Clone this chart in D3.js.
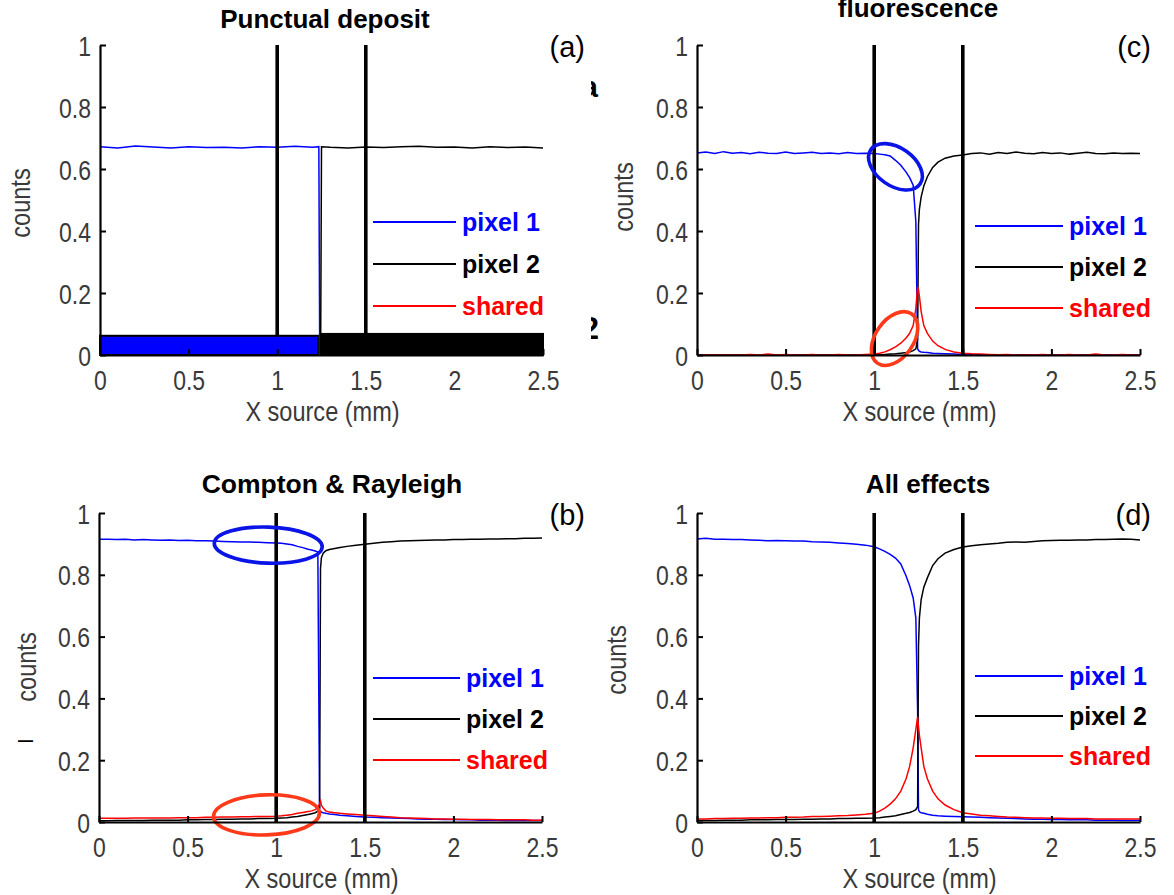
<!DOCTYPE html>
<html>
<head>
<meta charset="utf-8">
<script src="https://cdn.jsdelivr.net/npm/d3@7"></script>
<style>
  body { margin: 0; background: #fff; }
  svg { display: block; }
  .tick text, .axis-label { font-family: "Liberation Sans", Arial, sans-serif; fill: #3a3a3a; }
  .title, .legend-text { font-family: "Liberation Sans", Arial, sans-serif; font-weight: bold; }
  .tag { font-family: "Liberation Sans", Arial, sans-serif; }
</style>
</head>
<body>
<svg id="fig" width="1174" height="895"></svg>
<script>
// ---- shared axis content ----
const xTicks = [0, 0.5, 1, 1.5, 2, 2.5];
const xTickLabels = ["0", "0.5", "1", "1.5", "2", "2.5"];
const yTicks = [0, 0.2, 0.4, 0.6, 0.8, 1];
const yTickLabels = ["0", "0.2", "0.4", "0.6", "0.8", "1"];
const pixelEdges = [1, 1.5];                 // pixel boundaries (mm)
const seriesNames = ["pixel 1", "pixel 2", "shared"];

// ---- (a) punctual deposit ----
const xPunctual = [0, 0.1, 0.2, 0.3, 0.4, 0.5, 0.6, 0.7, 0.8, 0.9, 1.0, 1.1, 1.2, 1.235, 1.24, 1.245, 1.25, 1.3, 1.4, 1.5, 1.6, 1.7, 1.8, 1.9, 2.0, 2.1, 2.2, 2.3, 2.4, 2.5];
const punctualPixel1 = [0.672, 0.668, 0.674, 0.671, 0.668, 0.672, 0.669, 0.670, 0.668, 0.672, 0.670, 0.673, 0.670, 0.672, 0, 0, 0, 0, 0, 0, 0, 0, 0, 0, 0, 0, 0, 0, 0, 0];
const punctualPixel2 = [0, 0, 0, 0, 0, 0, 0, 0, 0, 0, 0, 0, 0, 0, 0, 0, 0.672, 0.670, 0.668, 0.671, 0.669, 0.672, 0.673, 0.670, 0.671, 0.668, 0.672, 0.669, 0.671, 0.668];
const punctualShared = [0, 0, 0, 0, 0, 0, 0, 0, 0, 0, 0, 0, 0, 0, 0, 0, 0, 0, 0, 0, 0, 0, 0, 0, 0, 0, 0, 0, 0, 0];
// deposit footprint of each pixel: [start, end, height]
const footprintPixel1 = [0, 1.23, 0.062];
const footprintPixel2 = [1.25, 2.5, 0.068];

// ---- source positions for (b), (c), (d) ----
const xSrc = [0, 0.05, 0.1, 0.15, 0.2, 0.25, 0.3, 0.35, 0.4, 0.45, 0.5, 0.55, 0.6, 0.65, 0.7, 0.75, 0.8, 0.85, 0.9, 0.95,
  1.0, 1.03, 1.06, 1.09, 1.12, 1.15, 1.18, 1.2, 1.22, 1.235, 1.245, 1.25, 1.255, 1.265, 1.28, 1.3, 1.33, 1.36, 1.4, 1.45,
  1.5, 1.55, 1.6, 1.65, 1.7, 1.75, 1.8, 1.85, 1.9, 1.95, 2.0, 2.05, 2.1, 2.15, 2.2, 2.25, 2.3, 2.35, 2.4, 2.45, 2.5];

// ---- (b) Compton & Rayleigh ----
const comptonPixel1 = [0.915, 0.915, 0.914, 0.915, 0.913, 0.914, 0.913, 0.912, 0.913, 0.911, 0.912, 0.910, 0.910, 0.909, 0.908, 0.907, 0.906, 0.906, 0.905, 0.904,
  0.903, 0.902, 0.900, 0.897, 0.892, 0.888, 0.883, 0.880, 0.877, 0.874, 0.020, 0.035, 0.032, 0.030, 0.028, 0.026, 0.024, 0.022, 0.020, 0.018,
  0.016, 0.015, 0.014, 0.013, 0.012, 0.011, 0.010, 0.009, 0.009, 0.008, 0.008, 0.007, 0.007, 0.006, 0.006, 0.006, 0.005, 0.005, 0.005, 0.005, 0.005];
const comptonPixel2 = [0.004, 0.004, 0.005, 0.005, 0.005, 0.005, 0.006, 0.006, 0.006, 0.006, 0.007, 0.007, 0.008, 0.008, 0.009, 0.009, 0.010, 0.010, 0.011, 0.011,
  0.012, 0.013, 0.014, 0.016, 0.018, 0.021, 0.024, 0.027, 0.030, 0.035, 0.045, 0.820, 0.855, 0.870, 0.878, 0.882, 0.885, 0.888, 0.892, 0.896,
  0.899, 0.902, 0.905, 0.907, 0.909, 0.910, 0.911, 0.912, 0.913, 0.913, 0.914, 0.914, 0.915, 0.915, 0.916, 0.916, 0.917, 0.917, 0.918, 0.918, 0.919];
const comptonShared = [0.012, 0.012, 0.012, 0.012, 0.013, 0.013, 0.013, 0.013, 0.013, 0.014, 0.014, 0.014, 0.015, 0.015, 0.016, 0.016, 0.017, 0.017, 0.018, 0.018,
  0.019, 0.020, 0.022, 0.024, 0.028, 0.031, 0.034, 0.036, 0.040, 0.045, 0.060, 0.068, 0.055, 0.045, 0.036, 0.032, 0.030, 0.028, 0.026, 0.024,
  0.022, 0.020, 0.018, 0.016, 0.014, 0.013, 0.012, 0.011, 0.010, 0.010, 0.009, 0.009, 0.008, 0.008, 0.008, 0.007, 0.007, 0.007, 0.007, 0.006, 0.006];

// ---- (c) fluorescence ----
const fluoPixel1 = [0.652, 0.655, 0.650, 0.656, 0.651, 0.653, 0.649, 0.654, 0.651, 0.650, 0.655, 0.650, 0.652, 0.654, 0.650, 0.652, 0.649, 0.653, 0.650, 0.651,
  0.650, 0.648, 0.646, 0.642, 0.628, 0.612, 0.590, 0.572, 0.548, 0.430, 0.020, 0.015, 0.012, 0.010, 0.009, 0.008, 0.006, 0.005, 0.004, 0.003,
  0.002, 0.002, 0.001, 0.001, 0.001, 0, 0, 0, 0, 0, 0, 0, 0, 0, 0, 0, 0, 0, 0, 0, 0];
const fluoPixel2 = [0, 0, 0, 0, 0, 0, 0, 0, 0, 0, 0, 0, 0, 0, 0, 0, 0, 0, 0, 0,
  0, 0.001, 0.002, 0.003, 0.004, 0.006, 0.008, 0.010, 0.014, 0.020, 0.050, 0.420, 0.470, 0.510, 0.545, 0.575, 0.605, 0.622, 0.635, 0.642,
  0.645, 0.650, 0.652, 0.648, 0.653, 0.650, 0.655, 0.651, 0.649, 0.653, 0.650, 0.652, 0.648, 0.651, 0.654, 0.650, 0.649, 0.652, 0.650, 0.651, 0.650];
const fluoShared = [0, 0, 0, 0, 0, 0, 0.002, 0, 0.003, 0, 0.002, 0, 0, 0.002, 0, 0, 0.002, 0, 0, 0.002,
  0.003, 0.006, 0.010, 0.017, 0.026, 0.038, 0.055, 0.070, 0.095, 0.150, 0.220, 0.210, 0.190, 0.140, 0.095, 0.070, 0.045, 0.030, 0.018, 0.010,
  0.006, 0.004, 0.003, 0.002, 0.001, 0.002, 0, 0.001, 0, 0.002, 0, 0, 0.002, 0, 0, 0.003, 0, 0, 0.002, 0, 0];

// ---- (d) all effects ----
const allPixel1 = [0.916, 0.918, 0.915, 0.915, 0.914, 0.914, 0.913, 0.912, 0.910, 0.911, 0.910, 0.909, 0.909, 0.907, 0.906, 0.905, 0.903, 0.901, 0.899, 0.896,
  0.891, 0.884, 0.876, 0.866, 0.854, 0.835, 0.796, 0.765, 0.725, 0.660, 0.360, 0.040, 0.033, 0.030, 0.028, 0.025, 0.022, 0.020, 0.019, 0.018,
  0.017, 0.016, 0.015, 0.014, 0.013, 0.012, 0.011, 0.010, 0.009, 0.009, 0.008, 0.008, 0.007, 0.007, 0.007, 0.006, 0.006, 0.006, 0.005, 0.005, 0.005];
const allPixel2 = [0.005, 0.005, 0.005, 0.006, 0.006, 0.006, 0.007, 0.007, 0.007, 0.008, 0.008, 0.008, 0.009, 0.009, 0.010, 0.010, 0.011, 0.011, 0.012, 0.012,
  0.013, 0.014, 0.016, 0.018, 0.020, 0.024, 0.028, 0.031, 0.035, 0.040, 0.050, 0.570, 0.660, 0.720, 0.760, 0.790, 0.830, 0.852, 0.870, 0.882,
  0.890, 0.894, 0.897, 0.900, 0.902, 0.905, 0.906, 0.905, 0.908, 0.910, 0.911, 0.912, 0.912, 0.913, 0.913, 0.914, 0.914, 0.915, 0.916, 0.915, 0.913];
const allShared = [0.010, 0.010, 0.011, 0.011, 0.012, 0.012, 0.013, 0.013, 0.014, 0.014, 0.015, 0.015, 0.016, 0.018, 0.018, 0.019, 0.020, 0.021, 0.023, 0.025,
  0.028, 0.035, 0.045, 0.058, 0.075, 0.100, 0.140, 0.180, 0.240, 0.300, 0.340, 0.310, 0.280, 0.240, 0.180, 0.140, 0.100, 0.075, 0.055, 0.040,
  0.030, 0.026, 0.022, 0.020, 0.018, 0.016, 0.015, 0.014, 0.013, 0.013, 0.012, 0.012, 0.011, 0.011, 0.011, 0.010, 0.010, 0.010, 0.010, 0.010, 0.010];

// highlighted regions (data coordinates of ellipse centres)
const comptonHighlights = [[0.955, 0.896], [0.945, 0.023]];
const fluoHighlights = [[1.12, 0.607], [1.115, 0.053]];

const seriesColors = ["#0000ff", "#000000", "#ff0000"];

const svg = d3.select("#fig");

// condensed look for the axis typeface
function squeeze(sel, f) {
  sel.each(function () {
    const w = this.getComputedTextLength();
    d3.select(this).attr("textLength", w * f).attr("lengthAdjust", "spacingAndGlyphs");
  });
}

function drawPanel(p) {
  const x = d3.scaleLinear().domain([0, 2.5]).range([p.left, p.right]);
  const y = d3.scaleLinear().domain([0, 1]).range([p.bottom, p.top]);
  const g = svg.append("g");

  // curves
  const line = d3.line().x(d => x(d[0])).y(d => y(d[1]));
  p.series.forEach((vals, i) => {
    g.append("path")
      .datum(p.xs.map((xv, k) => [xv, vals[k]]))
      .attr("d", line)
      .attr("fill", "none")
      .attr("stroke", seriesColors[i])
      .attr("stroke-width", 1.5);
  });

  // pixel boundaries
  g.selectAll("line.edge").data(pixelEdges).join("line")
    .attr("class", "edge")
    .attr("x1", d => x(d)).attr("x2", d => x(d))
    .attr("y1", y(0)).attr("y2", y(1))
    .attr("stroke", "#000").attr("stroke-width", 3.6);

  // footprint bars (punctual case)
  if (p.footprints) {
    p.footprints.forEach((f, i) => {
      g.append("rect")
        .attr("x", x(f[0])).attr("y", y(f[2]))
        .attr("width", x(f[1]) - x(f[0])).attr("height", y(0) - y(f[2]))
        .attr("fill", seriesColors[i])
        .attr("stroke", "#000").attr("stroke-width", 2);
    });
  }

  // highlight ellipses
  if (p.highlights) {
    p.highlights.forEach((h, i) => {
      const s = p.highlightShape[i];
      g.append("ellipse")
        .attr("transform", `translate(${x(h[0])},${y(h[1])}) rotate(${s.rot})`)
        .attr("rx", s.rx).attr("ry", s.ry)
        .attr("fill", "none")
        .attr("stroke", i === 0 ? "#0a14e6" : "#ff3a1a")
        .attr("stroke-width", 3.6);
    });
  }

  // axes
  const ax = g.append("g").attr("transform", `translate(0,${y(0)})`)
    .call(d3.axisBottom(x).tickValues(xTicks).tickFormat((d, i) => xTickLabels[i])
      .tickSizeInner(-6).tickSizeOuter(0).tickPadding(15));
  const ay = g.append("g").attr("transform", `translate(${x(0)},0)`)
    .call(d3.axisLeft(y).tickValues(yTicks).tickFormat((d, i) => yTickLabels[i])
      .tickSizeInner(-6).tickSizeOuter(0).tickPadding(9));
  [ax, ay].forEach(a => {
    a.select(".domain").attr("stroke", "#000").attr("stroke-width", 2.2);
    a.selectAll(".tick line").attr("stroke", "#000").attr("stroke-width", 2);
    a.selectAll(".tick text").attr("font-size", 28).attr("fill", "#3a3a3a");
    squeeze(a.selectAll(".tick text"), 0.82);
  });
  ay.selectAll(".tick text").attr("dy", "0.36em");

  // axis titles
  const xl = g.append("text").attr("class", "axis-label")
    .attr("x", (p.left + p.right) / 2 + 1).attr("y", p.bottom + 66)
    .attr("text-anchor", "middle").attr("font-size", 28)
    .text("X source (mm)");
  const yl = g.append("text").attr("class", "axis-label")
    .attr("transform", `translate(${p.ylabelX},${p.ylabelY}) rotate(-90)`)
    .attr("text-anchor", "middle").attr("font-size", 28)
    .text("counts");
  squeeze(xl, 0.84);
  squeeze(yl, 0.84);

  // title and panel tag
  g.append("text").attr("class", "title")
    .attr("x", p.titleX).attr("y", p.titleY)
    .attr("text-anchor", "middle").attr("font-size", p.titleSize || 26)
    .text(p.title);
  g.append("text").attr("class", "tag")
    .attr("x", p.tagX).attr("y", p.top + 12)
    .attr("text-anchor", "end").attr("font-size", 29)
    .text(p.tag);

  // legend
  seriesNames.forEach((name, i) => {
    const ly = p.legendY + i * p.legendGap;
    g.append("line")
      .attr("x1", p.legendX).attr("x2", p.legendX + p.legendLen)
      .attr("y1", ly).attr("y2", ly)
      .attr("stroke", seriesColors[i]).attr("stroke-width", 2);
    g.append("text").attr("class", "legend-text")
      .attr("x", p.legendX + p.legendLen + 6).attr("y", ly + 9)
      .attr("font-size", 25).attr("fill", seriesColors[i])
      .text(name);
  });
  return { x, y };
}

drawPanel({
  left: 100, right: 543, top: 45, bottom: 355,
  xs: xPunctual, series: [punctualPixel1, punctualPixel2, punctualShared],
  footprints: [footprintPixel1, footprintPixel2],
  title: "Punctual deposit", titleX: 325, titleY: 28, tag: "(a)", tagX: 585,
  ylabelX: 30, ylabelY: 203,
  legendX: 373, legendLen: 83, legendY: 222, legendGap: 42
});

drawPanel({
  left: 697, right: 1140, top: 45, bottom: 355,
  xs: xSrc, series: [fluoPixel1, fluoPixel2, fluoShared],
  highlights: fluoHighlights,
  highlightShape: [{ rx: 30, ry: 19, rot: 35 }, { rx: 30, ry: 19, rot: -55 }],
  title: "fluorescence", titleX: 918, titleY: 17, tag: "(c)", tagX: 1151,
  ylabelX: 633, ylabelY: 197,
  legendX: 975, legendLen: 88, legendY: 226, legendGap: 41
});

drawPanel({
  left: 99, right: 542, top: 513, bottom: 822,
  xs: xSrc, series: [comptonPixel1, comptonPixel2, comptonShared],
  highlights: comptonHighlights,
  highlightShape: [{ rx: 54, ry: 18, rot: 2 }, { rx: 53, ry: 20, rot: -2 }],
  title: "Compton & Rayleigh", titleX: 332, titleY: 493, titleSize: 26.5, tag: "(b)", tagX: 585,
  ylabelX: 36, ylabelY: 667,
  legendX: 373, legendLen: 87, legendY: 678, legendGap: 41
});

drawPanel({
  left: 697, right: 1140, top: 513, bottom: 822,
  xs: xSrc, series: [allPixel1, allPixel2, allShared],
  title: "All effects", titleX: 928, titleY: 493, tag: "(d)", tagX: 1151,
  ylabelX: 626, ylabelY: 660,
  legendX: 975, legendLen: 88, legendY: 676, legendGap: 40
});

// clipped glyph fragments along the centre gutter
const defs = svg.append("defs");
defs.append("clipPath").attr("id", "gutter")
  .append("rect").attr("x", 591).attr("y", 0).attr("width", 10).attr("height", 895);
const frag = svg.append("g").attr("clip-path", "url(#gutter)")
  .attr("font-family", "Liberation Sans, Arial, sans-serif").attr("font-weight", "bold");
frag.append("text").attr("x", 598).attr("y", 97).attr("text-anchor", "end").attr("font-size", 30).text("a");
frag.append("text").attr("x", 599).attr("y", 339).attr("text-anchor", "end").attr("font-size", 32).text("2");
svg.append("text")
  .attr("transform", "translate(33,741) rotate(-90)")
  .attr("text-anchor", "middle").attr("font-size", 20)
  .attr("font-family", "Liberation Sans, Arial, sans-serif")
  .text("l");
</script>
</body>
</html>
